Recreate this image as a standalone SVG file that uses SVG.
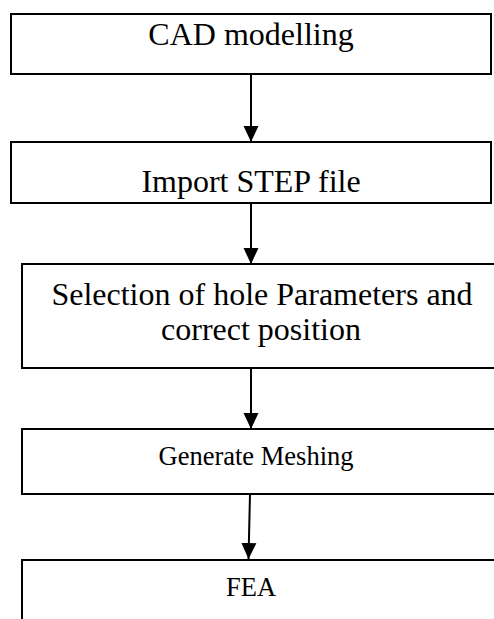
<svg xmlns="http://www.w3.org/2000/svg" width="494" height="619" viewBox="0 0 494 619">
<style>
.box{fill:#fff;stroke:#000;stroke-width:2}
.t{font-family:"Liberation Serif","Times New Roman",serif;font-size:32px;fill:#000;text-anchor:middle}
.s{font-size:26.5px}
.c{stroke:#000;stroke-width:2;fill:none}
</style>
<defs>
<marker id="ah" markerUnits="userSpaceOnUse" markerWidth="16" markerHeight="16" refX="16" refY="8" orient="auto" viewBox="0 0 16 16">
<path d="M0,0.5 L16,8 L0,15.5 z" fill="#000"/>
</marker>
</defs>
<rect width="494" height="619" fill="#fff"/>
<g id="connectors">
<line class="c" x1="251" y1="75" x2="251" y2="142" marker-end="url(#ah)"/>
<line class="c" x1="251" y1="204" x2="251" y2="264" marker-end="url(#ah)"/>
<line class="c" x1="251" y1="369" x2="251" y2="429" marker-end="url(#ah)"/>
<line class="c" x1="250" y1="494" x2="248.5" y2="559" marker-end="url(#ah)"/>
</g>
<g id="n1">
<rect class="box" x="11" y="14" width="480" height="60"/>
<text class="t" x="251" y="45">CAD modelling</text>
</g>
<g id="n2">
<rect class="box" x="11" y="142" width="480" height="61"/>
<text class="t" x="251" y="192">Import STEP file</text>
</g>
<g id="n3">
<rect class="box" x="22" y="264" width="484" height="104"/>
<text class="t" x="262" y="305">Selection of hole Parameters and</text>
<text class="t" x="261" y="340">correct position</text>
</g>
<g id="n4">
<rect class="box" x="22" y="429" width="484" height="65"/>
<text class="t s" x="256" y="465">Generate Meshing</text>
</g>
<g id="n5">
<rect class="box" x="22" y="560" width="484" height="80"/>
<text class="t s" x="251" y="596">FEA</text>
</g>
</svg>
